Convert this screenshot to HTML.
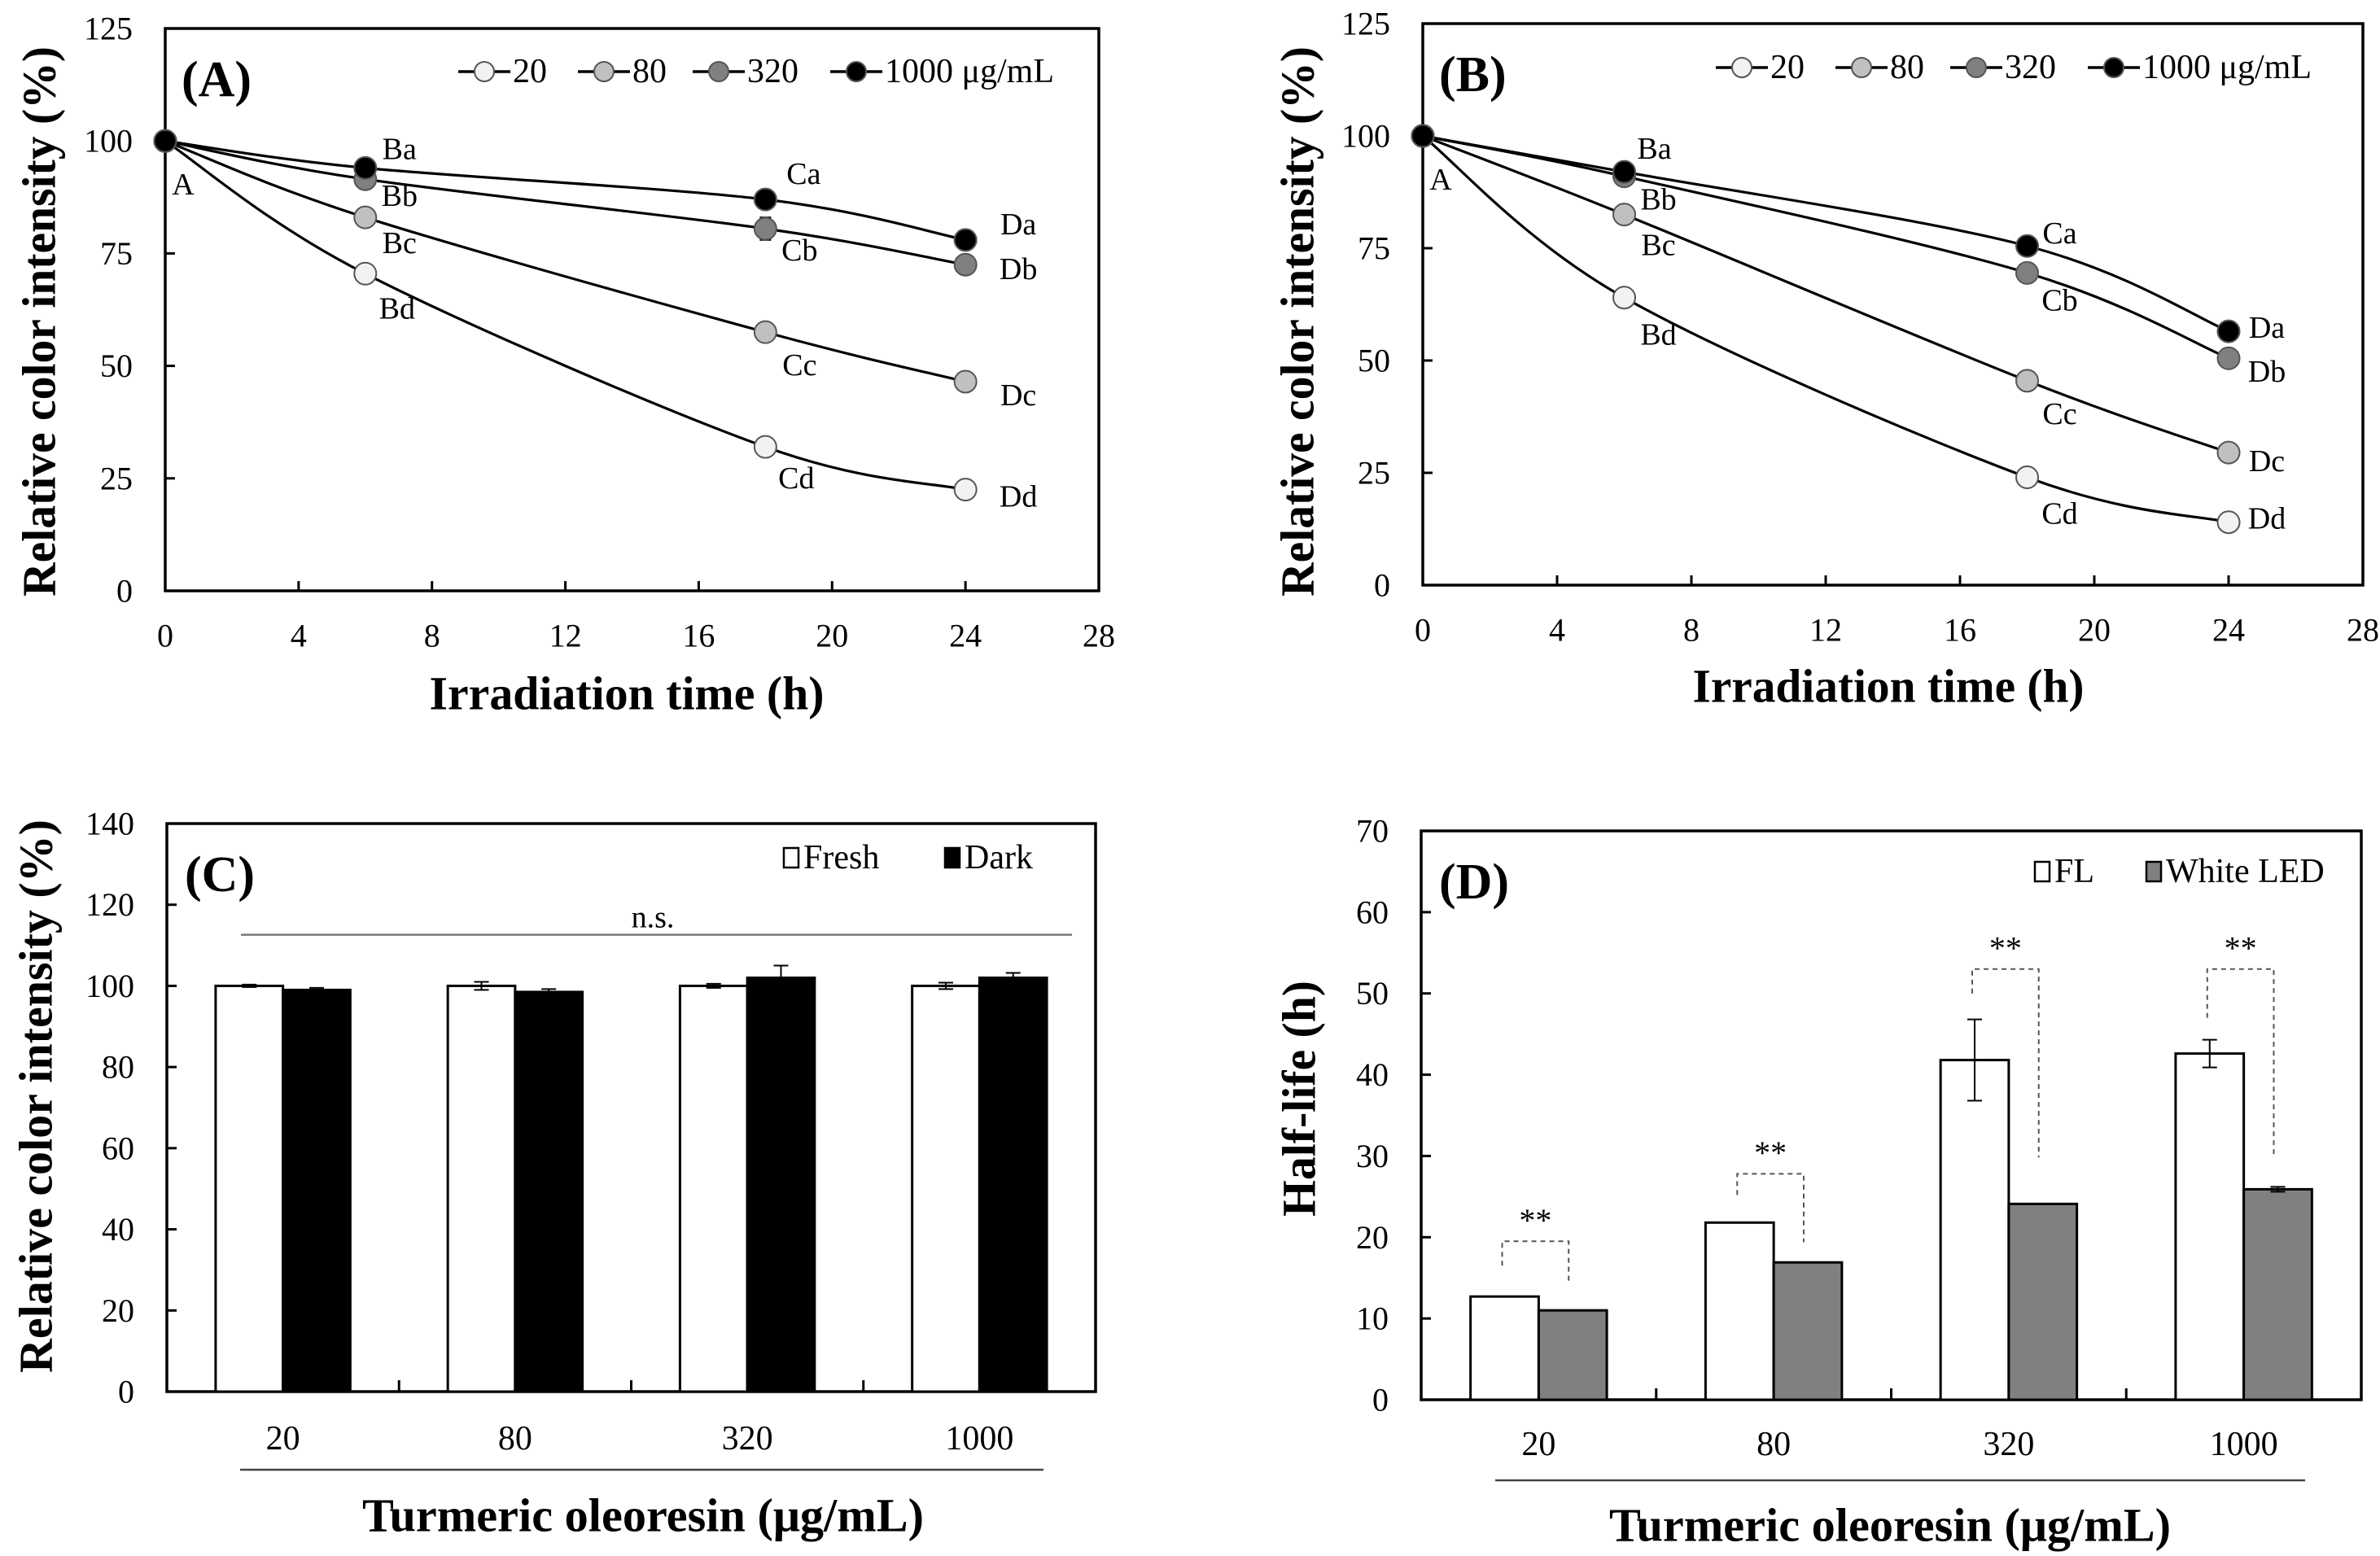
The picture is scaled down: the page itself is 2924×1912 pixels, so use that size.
<!DOCTYPE html>
<html><head><meta charset="utf-8"><style>
html,body{margin:0;padding:0;background:#fff}
svg{display:block}
text{font-family:"Liberation Serif","Times New Roman",serif;fill:#000}
</style></head><body>
<svg id="fig" width="2924" height="1912" viewBox="0 0 2924 1912" xmlns="http://www.w3.org/2000/svg"></svg>
<script>
// ---------- DATA ----------
const timesH = [0, 6, 18, 24];
const seriesNames = ["20", "80", "320", "1000"];
const seriesFill = ["#f2f2f2", "#c0c0c0", "#808080", "#000000"];
// Panel A (FL)
const aS20 = [100, 70.5, 32, 22.5];
const aS80 = [100, 83, 57.5, 46.5];
const aS320 = [100, 91.5, 80.5, 72.5];
const aS1000 = [100, 94, 87, 78];
const aErr320 = [0, 0, 2.5, 0];
const aLetters20 = ["A", "Bd", "Cd", "Dd"];
const aLetters80 = ["", "Bc", "Cc", "Dc"];
const aLetters320 = ["", "Bb", "Cb", "Db"];
const aLetters1000 = ["", "Ba", "Ca", "Da"];
// Panel B (White LED)
const bS20 = [100, 64, 24, 14];
const bS80 = [100, 82.5, 45.5, 29.5];
const bS320 = [100, 91, 69.5, 50.5];
const bS1000 = [100, 92, 75.5, 56.5];
const xTicks = [0, 4, 8, 12, 16, 20, 24, 28];
const yTicksAB = [0, 25, 50, 75, 100, 125];
// Panel C
const concCats = ["20", "80", "320", "1000"];
const cFresh = [100, 100, 100, 100];
const cFreshErr = [0.3, 1, 0.5, 0.8];
const cDark = [99, 98.5, 102, 102];
const cDarkErr = [0.5, 0.7, 3, 1.2];
const yTicksC = [0, 20, 40, 60, 80, 100, 120, 140];
// Panel D
const dFL = [12.7, 21.8, 41.8, 42.6];
const dFLErr = [0, 0, 5, 1.7];
const dLED = [11, 16.9, 24.1, 25.9];
const dLEDErr = [0, 0, 0, 0.3];
const dBracketTop = [19.5, 27.8, 53, 53];
const dBracketLeft = [16.5, 25.2, 50, 47];
const dBracketRight = [14.3, 19.4, 29.8, 29.8];
const yTicksD = [0, 10, 20, 30, 40, 50, 60, 70];

// ---------- HELPERS ----------
const NS = "http://www.w3.org/2000/svg";
const svg = document.getElementById("fig");
function mk(tag, attrs, parent) {
  const e = document.createElementNS(NS, tag);
  for (const k in attrs) e.setAttribute(k, attrs[k]);
  (parent || svg).appendChild(e);
  return e;
}
function txt(s, x, y, size, opts, parent) {
  opts = opts || {};
  const a = {x: x, y: y, "font-size": size, "text-anchor": opts.anchor || "middle", "dominant-baseline": "central"};
  if (opts.bold) a["font-weight"] = "bold";
  if (opts.len) { a.textLength = opts.len; a.lengthAdjust = "spacingAndGlyphs"; }
  if (opts.rot) a.transform = "rotate(-90 " + x + " " + y + ")";
  const t = mk("text", a, parent);
  t.textContent = s;
  return t;
}
function linScale(d0, d1, r0, r1) { return v => r0 + (v - d0) / (d1 - d0) * (r1 - r0); }
function smoothPath(pts) {
  let d = "M" + pts[0][0] + "," + pts[0][1];
  for (let i = 0; i < pts.length - 1; i++) {
    const p0 = pts[i - 1] || pts[i], p1 = pts[i], p2 = pts[i + 1], p3 = pts[i + 2] || p2;
    const c1x = p1[0] + (p2[0] - p0[0]) / 6, c1y = p1[1] + (p2[1] - p0[1]) / 6;
    const c2x = p2[0] - (p3[0] - p1[0]) / 6, c2y = p2[1] - (p3[1] - p1[1]) / 6;
    d += " C" + c1x + "," + c1y + " " + c2x + "," + c2y + " " + p2[0] + "," + p2[1];
  }
  return d;
}

// ---------- LINE PANELS ----------
function linePanel(cfg) {
  const g = mk("g", {});
  
  
  const X = linScale(0, 28, cfg.x0, cfg.x1), Y = linScale(0, 125, cfg.y0, cfg.y1);
  const frame = mk("rect", {x: cfg.x0, y: cfg.y1, width: cfg.x1 - cfg.x0, height: cfg.y0 - cfg.y1, fill: "none", stroke: "#000", "stroke-width": 3.5}, g);
  
  
  xTicks.forEach(t => {
    if (t > 0 && t < 28) mk("line", {x1: X(t), x2: X(t), y1: cfg.y0, y2: cfg.y0 - 12, stroke: "#000", "stroke-width": 3}, g);
    const l = txt(String(t), X(t), cfg.y0 + 55, 40, {}, g);
    
    
  });
  yTicksAB.forEach(t => {
    if (t > 0 && t < 125) mk("line", {x1: cfg.x0, x2: cfg.x0 + 12, y1: Y(t), y2: Y(t), stroke: "#000", "stroke-width": 3}, g);
    const l = txt(String(t), cfg.x0 - 40, Y(t), 40, {anchor: "end"}, g);
    
    
  });
  const xt = txt("Irradiation time (h)", cfg.xtX, cfg.xtY, 58, {bold: true, len: cfg.xtLen}, g);
  
  
  const yt = txt("Relative color intensity (%)", cfg.ytX, cfg.ytY, 58, {bold: true, rot: true, len: 676}, g);
  
  
  const pl = txt(cfg.label, cfg.x0 + 20, cfg.y1 + 63, 62, {bold: true, anchor: "start"}, g);
  
  
  cfg.series.forEach((vals, si) => {
    const pts = timesH.map((t, i) => [X(t), Y(vals[i])]);
    const p = mk("path", {d: smoothPath(pts), fill: "none", stroke: "#000", "stroke-width": 3.2}, g);
    
    
  });
  if (cfg.err) {
    cfg.err.forEach((e, i) => {
      if (!e) return;
      const v = cfg.series[2][i], x = X(timesH[i]);
      mk("line", {x1: x, x2: x, y1: Y(v + e), y2: Y(v - e), stroke: "#000", "stroke-width": 2}, g);
      mk("line", {x1: x - 7, x2: x + 7, y1: Y(v + e), y2: Y(v + e), stroke: "#000", "stroke-width": 2}, g);
      mk("line", {x1: x - 7, x2: x + 7, y1: Y(v - e), y2: Y(v - e), stroke: "#000", "stroke-width": 2}, g);
    });
  }
  cfg.series.forEach((vals, si) => {
    vals.forEach((v, i) => {
      const c = mk("circle", {cx: X(timesH[i]), cy: Y(v), r: 13.5, fill: seriesFill[si], stroke: "#555", "stroke-width": 2}, g);
      
      
    });
  });
  cfg.letters.forEach((arr, si) => {
    arr.forEach((s, i) => {
      if (!s) return;
      const off = cfg.offs[si][i];
      const t = txt(s, X(timesH[i]) + off[0], Y(cfg.series[si][i]) + off[1], 38, {}, g);
      
      
    });
  });
  // legend
  const lg = mk("g", {}, g);
  
  
  const lx = [563, 710, 851, 1020].map(v => v + cfg.legDx);
  const labels = ["20", "80", "320", "1000 \u03bcg/mL"];
  lx.forEach((x, i) => {
    const e = mk("g", {}, lg);
    
    
    mk("line", {x1: x, x2: x + 64, y1: cfg.legY, y2: cfg.legY, stroke: "#000", "stroke-width": 3.5}, e);
    mk("circle", {cx: x + 32, cy: cfg.legY, r: 12, fill: seriesFill[i], stroke: "#555", "stroke-width": 2}, e);
    txt(labels[i], x + 67, cfg.legY, 42, {anchor: "start"}, e);
  });
}
const offsA = [
  [[22, 54], [39, 43], [38, 39], [65, 9]],
  [[0, 0], [42, 32], [42, 41], [65, 17]],
  [[0, 0], [42, 21], [42, 27], [65, 6]],
  [[0, 0], [42, -23], [47, -31], [65, -19]]
];
const offsB = [
  [[22, 54], [42, 46], [40, 45], [47, -4]],
  [[0, 0], [42, 38], [40, 41], [47, 11]],
  [[0, 0], [42, 29], [40, 34], [47, 17]],
  [[0, 0], [37, -28], [40, -15], [47, -4]]
];
linePanel({name: "panel-a", label: "(A)", x0: 203, x1: 1350, y0: 726, y1: 35,
  series: [aS20, aS80, aS320, aS1000], err: aErr320,
  letters: [aLetters20, aLetters80, aLetters320, aLetters1000], offs: offsA,
  xtX: 770, xtY: 852, xtLen: 485, ytX: 48, ytY: 395, legDx: 0, legY: 88});
linePanel({name: "panel-b", label: "(B)", x0: 1748, x1: 2903, y0: 719, y1: 29,
  series: [bS20, bS80, bS320, bS1000], err: null,
  letters: [aLetters20, aLetters80, aLetters320, aLetters1000], offs: offsB,
  xtX: 2320, xtY: 843, xtLen: 481, ytX: 1594, ytY: 395, legDx: 1545, legY: 83});

// ---------- BAR PANELS ----------
function barPanel(cfg) {
  const g = mk("g", {});
  
  
  const Y = linScale(0, cfg.ymax, cfg.y0, cfg.y1);
  const cw = (cfg.x1 - cfg.x0) / concCats.length, bw = cw * 0.29;
  const frame = mk("rect", {x: cfg.x0, y: cfg.y1, width: cfg.x1 - cfg.x0, height: cfg.y0 - cfg.y1, fill: "none", stroke: "#000", "stroke-width": 3.5}, g);
  
  
  cfg.yTicks.forEach(t => {
    if (t > 0 && t < cfg.ymax) mk("line", {x1: cfg.x0, x2: cfg.x0 + 12, y1: Y(t), y2: Y(t), stroke: "#000", "stroke-width": 3}, g);
    const l = txt(String(t), cfg.x0 - 40, Y(t), 40, {anchor: "end"}, g);
    
    
  });
  for (let i = 1; i < concCats.length; i++) mk("line", {x1: cfg.x0 + cw * i, x2: cfg.x0 + cw * i, y1: cfg.y0, y2: cfg.y0 - 14, stroke: "#000", "stroke-width": 3}, g);
  concCats.forEach((c, i) => {
    const cx = cfg.x0 + cw * (i + 0.5);
    const series = [[cfg.a, cfg.aErr, "#fff", cfg.aName], [cfg.b, cfg.bErr, cfg.bFill, cfg.bName]];
    series.forEach((s, k) => {
      const x = k === 0 ? cx - bw : cx, v = s[0][i];
      const r = mk("rect", {x: x, y: Y(v), width: bw, height: cfg.y0 - Y(v), fill: s[2], stroke: "#000", "stroke-width": 3}, g);
      
      
      const e = s[1][i];
      if (e) {
        const ex = x + bw / 2;
        mk("line", {x1: ex, x2: ex, y1: Y(v + e), y2: Y(v - e), stroke: "#000", "stroke-width": 2}, g);
        mk("line", {x1: ex - 9, x2: ex + 9, y1: Y(v + e), y2: Y(v + e), stroke: "#000", "stroke-width": 2}, g);
        mk("line", {x1: ex - 9, x2: ex + 9, y1: Y(v - e), y2: Y(v - e), stroke: "#000", "stroke-width": 2}, g);
      }
    });
    const l = txt(c, cx, cfg.catY, 42, {}, g);
    
    
  });
  mk("line", {x1: cfg.ulX0, x2: cfg.ulX1, y1: cfg.ulY, y2: cfg.ulY, stroke: "#444", "stroke-width": 2.5}, g);
  const xt = txt("Turmeric oleoresin (\u03bcg/mL)", cfg.xtX, cfg.xtY, 58, {bold: true, len: 690}, g);
  
  
  const yt = txt(cfg.ytitle, cfg.ytX, cfg.ytY, 58, {bold: true, rot: true, len: cfg.ytLen}, g);
  
  
  const pl = txt(cfg.label, cfg.x0 + 22, cfg.y1 + 63, 62, {bold: true, anchor: "start"}, g);
  
  
  const lg = mk("g", {}, g);
  
  
  mk("rect", {x: cfg.leg[0] - 9, y: cfg.legY - 12, width: 18, height: 24, fill: "#fff", stroke: "#000", "stroke-width": 2.5}, lg);
  txt(cfg.aName, cfg.leg[0] + 15, cfg.legY, 42, {anchor: "start"}, lg);
  mk("rect", {x: cfg.leg[1] - 9, y: cfg.legY - 12, width: 18, height: 24, fill: cfg.bFill, stroke: "#000", "stroke-width": 2.5}, lg);
  txt(cfg.bName, cfg.leg[1] + 15, cfg.legY, 42, {anchor: "start"}, lg);
  return {g: g, Y: Y, cw: cw, bw: bw};
}
const pc = barPanel({name: "panel-c", label: "(C)", x0: 205, x1: 1346, y0: 1710, y1: 1012, ymax: 140, yTicks: yTicksC,
  a: cFresh, aErr: cFreshErr, b: cDark, bErr: cDarkErr, bFill: "#000", aName: "Fresh", bName: "Dark",
  catY: 1768, ulX0: 295, ulX1: 1282, ulY: 1806, xtX: 790, xtY: 1862,
  ytitle: "Relative color intensity (%)", ytX: 44, ytY: 1347, ytLen: 680, leg: [972, 1170], legY: 1054});
// n.s. line
mk("line", {x1: 296, x2: 1317, y1: pc.Y(112.6), y2: pc.Y(112.6), stroke: "#777", "stroke-width": 2.5}, pc.g);
const ns = txt("n.s.", 802, pc.Y(116.8), 38, {}, pc.g);



const pd = barPanel({name: "panel-d", label: "(D)", x0: 1746, x1: 2901, y0: 1720, y1: 1021, ymax: 70, yTicks: yTicksD,
  a: dFL, aErr: dFLErr, b: dLED, bErr: dLEDErr, bFill: "#808080", aName: "FL", bName: "White LED",
  catY: 1775, ulX0: 1837, ulX1: 2832, ulY: 1819, xtX: 2322, xtY: 1874,
  ytitle: "Half-life (h)", ytX: 1596, ytY: 1350, ytLen: 290, leg: [2509, 2646], legY: 1071});
concCats.forEach((c, i) => {
  const cx = 1746 + pd.cw * (i + 0.5);
  const xl = cx - pd.bw / 2 - 3, xr = cx + pd.bw / 2 - 5;
  const b = mk("path", {d: "M" + xl + "," + pd.Y(dBracketLeft[i]) + " V" + pd.Y(dBracketTop[i]) + " H" + xr + " V" + pd.Y(dBracketRight[i]),
    fill: "none", stroke: "#555", "stroke-width": 2, "stroke-dasharray": "6,5"}, pd.g);
  
  
  const s = txt("**", (xl + xr) / 2, pd.Y(dBracketTop[i]) - 26, 40, {}, pd.g);
  
  
});
</script>
</body></html>
